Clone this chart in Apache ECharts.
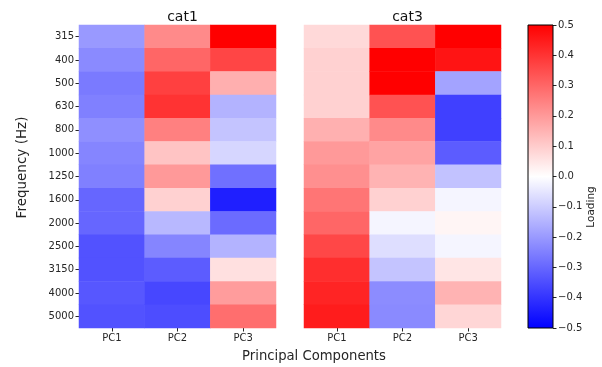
<!DOCTYPE html>
<html>
<head>
<meta charset="utf-8">
<script src="https://cdn.jsdelivr.net/npm/echarts@6/dist/echarts.min.js"></script>
<style>
  html, body { margin: 0; padding: 0; background: #fff; }
  #chart { width: 602px; height: 367px; }
</style>
</head>
<body>
<div id="chart"></div>
<script>
// tick labels
const freqs = ['315', '400', '500', '630', '800', '1000', '1250', '1600', '2000', '2500', '3150', '4000', '5000'];
const pcs = ['PC1', 'PC2', 'PC3'];

// loadings (bwr, -0.5 .. 0.5)
const cat1PC1 = [-0.2, -0.23, -0.26, -0.25, -0.22, -0.24, -0.25, -0.3, -0.3, -0.34, -0.34, -0.33, -0.34];
const cat1PC2 = [0.23, 0.3, 0.375, 0.4, 0.25, 0.115, 0.2, 0.09, -0.14, -0.24, -0.32, -0.36, -0.35];
const cat1PC3 = [0.5, 0.365, 0.157, -0.15, -0.115, -0.08, -0.28, -0.44, -0.29, -0.15, 0.06, 0.195, 0.285];

const cat3PC1 = [0.075, 0.09, 0.09, 0.09, 0.155, 0.2, 0.22, 0.27, 0.3, 0.36, 0.41, 0.43, 0.445];
const cat3PC2 = [0.34, 0.5, 0.5, 0.34, 0.23, 0.18, 0.15, 0.09, -0.02, -0.065, -0.115, -0.225, -0.23];
const cat3PC3 = [0.5, 0.46, -0.18, -0.375, -0.375, -0.32, -0.12, -0.02, 0.02, -0.02, 0.05, 0.15, 0.08];

const cmap = ['#0000ff', '#ffffff', '#ff0000'];
const vMin = -0.5, vMax = 0.5;

function cells(cols) {
  const out = [];
  cols.forEach((col, x) => col.forEach((v, y) => out.push([x, y, v])));
  return out;
}

const txt = '#262626';
const font = 'DejaVu Sans';
const tickSize = 10;
const chart = echarts.init(document.getElementById('chart'), null, { renderer: 'canvas' });

const catAxis = (show, margin) => ({
  axisLine: { show: false },
  axisTick: { show: show, alignWithLabel: true, length: 3.5, lineStyle: { color: txt } },
  axisLabel: { show: show, color: txt, fontFamily: font, fontSize: tickSize, margin: margin },
  splitLine: { show: false }
});

const titleStyle = { color: '#111', fontFamily: font, fontSize: 14, fontWeight: 'normal' };

chart.setOption({
  animation: false,
  textStyle: { fontFamily: font },
  title: [
    { text: 'cat1', left: 177.5, top: 5, textAlign: 'center', textStyle: titleStyle },
    { text: 'cat3', left: 402.5, top: 5, textAlign: 'center', textStyle: titleStyle }
  ],
  graphic: [
    { type: 'text', x: 22, y: 167.5, rotation: Math.PI / 2,
      style: { text: 'Frequency (Hz)', fill: txt, font: '13.5px "DejaVu Sans"', align: 'center', verticalAlign: 'middle' } },
    { type: 'text', x: 314, y: 357, rotation: 0,
      style: { text: 'Principal Components', fill: txt, font: '13.2px "DejaVu Sans"', align: 'center', verticalAlign: 'middle' } },
    { type: 'text', x: 591, y: 207, rotation: Math.PI / 2,
      style: { text: 'Loading', fill: txt, font: '10.5px "DejaVu Sans"', align: 'center', verticalAlign: 'middle' } }
  ],
  grid: [
    { left: 79, top: 25, width: 197, height: 303 },
    { left: 304, top: 25, width: 197, height: 303 },
    { left: 528, top: 25, width: 25, height: 303 }
  ],
  xAxis: [
    Object.assign({ type: 'category', gridIndex: 0, data: pcs }, catAxis(true, 5)),
    Object.assign({ type: 'category', gridIndex: 1, data: pcs }, catAxis(true, 5)),
    { type: 'category', gridIndex: 2, data: [''], show: false }
  ],
  yAxis: [
    Object.assign({ type: 'category', gridIndex: 0, data: freqs, inverse: true }, catAxis(true, 5)),
    Object.assign({ type: 'category', gridIndex: 1, data: freqs, inverse: true }, catAxis(false, 5)),
    {
      type: 'value', gridIndex: 2, position: 'right', min: vMin, max: vMax, interval: 0.1,
      axisLine: { show: false },
      axisTick: { show: true, length: 3.5, lineStyle: { color: txt } },
      axisLabel: { color: txt, fontFamily: font, fontSize: tickSize, margin: 5,
        formatter: (v) => v.toFixed(1).replace('-', '\u2212') },
      splitLine: { show: false }
    }
  ],
  visualMap: {
    type: 'continuous', show: false, min: vMin, max: vMax, seriesIndex: [0, 1],
    inRange: { color: cmap }
  },
  series: [
    { type: 'heatmap', xAxisIndex: 0, yAxisIndex: 0, data: cells([cat1PC1, cat1PC2, cat1PC3]), itemStyle: { borderWidth: 0 } },
    { type: 'heatmap', xAxisIndex: 1, yAxisIndex: 1, data: cells([cat3PC1, cat3PC2, cat3PC3]), itemStyle: { borderWidth: 0 } },
    {
      type: 'custom', xAxisIndex: 2, yAxisIndex: 2, data: [[0, vMin, vMax]], silent: true,
      renderItem: (params, api) => {
        const top = api.coord([0, api.value(2)]);
        const bot = api.coord([0, api.value(1)]);
        const cs = params.coordSys;
        return {
          type: 'rect',
          shape: { x: cs.x, y: top[1], width: cs.width, height: bot[1] - top[1] },
          style: {
            fill: new echarts.graphic.LinearGradient(0, 0, 0, 1, [
              { offset: 0, color: cmap[2] }, { offset: 0.5, color: cmap[1] }, { offset: 1, color: cmap[0] }
            ]),
            stroke: '#000', lineWidth: 1
          }
        };
      }
    }
  ]
});
</script>
</body>
</html>
